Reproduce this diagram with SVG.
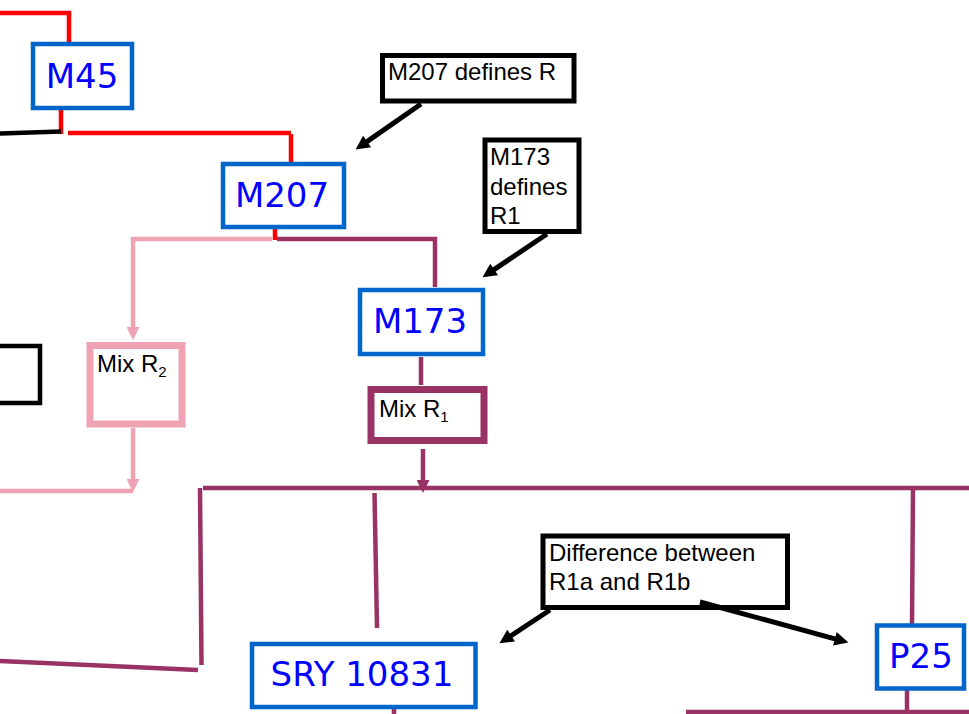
<svg xmlns="http://www.w3.org/2000/svg" width="969" height="714" viewBox="0 0 969 714">
<defs>
<style>
.node{fill:#fff;stroke:#0066CC;stroke-width:4.5}
.ntext{font-family:"DejaVu Sans",Verdana,sans-serif;font-size:34px;fill:#0000FF;text-anchor:middle}
.note{fill:#fff;stroke:#000;stroke-width:5}
.ntxt{font-family:"Liberation Sans",Arial,sans-serif;font-size:24px;fill:#000}
.red{stroke:#FF0000;stroke-width:4.5;fill:none}
.pink{stroke:#EEA2B2;stroke-width:4.5;fill:none}
.pur{stroke:#993366;stroke-width:4.5;fill:none}
.blk{stroke:#000;stroke-width:4.5;fill:none}
.arr{stroke:#000;stroke-width:5;fill:none;marker-end:url(#ab)}
</style>
<marker id="ab" viewBox="0 0 10 10" refX="2" refY="5" markerWidth="16" markerHeight="14" markerUnits="userSpaceOnUse" orient="auto"><path d="M0,0 L10,5 L0,10 z" fill="#000"/></marker>
<marker id="ap" viewBox="0 0 10 10" refX="0" refY="5" markerWidth="13" markerHeight="13" markerUnits="userSpaceOnUse" orient="auto"><path d="M0,0 L10,5 L0,10 z" fill="#EEA2B2"/></marker>
<marker id="au" viewBox="0 0 10 10" refX="0" refY="5" markerWidth="13" markerHeight="13" markerUnits="userSpaceOnUse" orient="auto"><path d="M0,0 L10,5 L0,10 z" fill="#993366"/></marker>
</defs>
<rect width="969" height="714" fill="#fff"/>
<g id="connectors">
<polyline class="red" points="0,13 69,13 69,43"/>
<line class="red" x1="61" y1="104" x2="61" y2="134"/>
<line class="blk" x1="0" y1="133.5" x2="61" y2="131.5"/>
<polyline class="red" points="68,133 291,133"/>
<line class="red" x1="291" y1="134" x2="291" y2="163"/>
<line class="red" x1="275" y1="226" x2="275" y2="240"/>
<polyline class="pink" points="272,239 133,239 133,327" marker-end="url(#ap)"/>
<polyline class="pur" points="277,239 435,239 435,287"/>
<polyline class="blk" points="0,346 40,346 40,403 0,403"/>
<line class="pink" x1="133" y1="428" x2="133" y2="479" marker-end="url(#ap)"/>
<line class="pink" x1="0" y1="491" x2="133" y2="491"/>
<line class="pur" x1="421" y1="357" x2="421" y2="385"/>
<line class="pur" x1="423" y1="449" x2="423" y2="480" marker-end="url(#au)"/>
<line class="pur" x1="203" y1="488" x2="969" y2="488"/>
<line class="pur" x1="200" y1="488" x2="201.5" y2="665"/>
<line class="pur" x1="0" y1="661" x2="198" y2="670"/>
<line class="pur" x1="374.5" y1="493" x2="377" y2="628"/>
<line class="pur" x1="913" y1="488" x2="912" y2="625"/>
<line class="pur" x1="394" y1="708" x2="394" y2="714"/>
<line class="pur" x1="907" y1="678" x2="907" y2="714"/>
<line class="pur" x1="686" y1="712" x2="969" y2="712"/>
</g>
<g id="M45"><rect class="node" x="33" y="44" width="99" height="64"/><text class="ntext" x="82" y="88">M45</text></g>
<g id="M207"><rect class="node" x="223" y="164" width="121" height="63"/><text class="ntext" x="282" y="207">M207</text></g>
<g id="M173"><rect class="node" x="360" y="290" width="123" height="64"/><text class="ntext" x="420" y="333">M173</text></g>
<g id="SRY10831"><rect class="node" x="252" y="644" width="223.5" height="63"/><text class="ntext" x="362" y="686">SRY 10831</text></g>
<g id="P25"><rect class="node" x="877" y="625.5" width="87" height="63"/><text class="ntext" x="921" y="668">P25</text></g>
<g id="MixR2"><rect x="90" y="345.5" width="92" height="78.5" fill="#fff" stroke="#EEA2B2" stroke-width="7"/><text class="ntxt" x="97" y="372" font-size="23">Mix R<tspan font-size="15" dy="5">2</tspan></text></g>
<g id="MixR1"><rect x="371" y="389.5" width="113" height="51" fill="#fff" stroke="#993366" stroke-width="7"/><text class="ntxt" x="379" y="417" font-size="23">Mix R<tspan font-size="15" dy="5">1</tspan></text></g>
<g id="noteM207"><rect class="note" x="382.5" y="55.5" width="191.5" height="45.5"/><text class="ntxt" x="388" y="80">M207 defines R</text></g>
<g id="noteM173"><rect class="note" x="485" y="140" width="94" height="91.5"/><text class="ntxt" x="490" y="165">M173<tspan x="490" dy="29.5">defines</tspan><tspan x="490" dy="29.5">R1</tspan></text></g>
<g id="noteDiff"><rect class="note" x="543" y="536" width="244.5" height="71.5"/><text class="ntxt" x="549" y="561">Difference between<tspan x="549" dy="29">R1a and R1b</tspan></text></g>
<g id="callout-arrows">
<line class="arr" x1="421" y1="104" x2="364.8" y2="143.1"/>
<line class="arr" x1="547" y1="234" x2="491.8" y2="271.1"/>
<line class="arr" x1="550" y1="610" x2="508.8" y2="637.1"/>
<line class="arr" x1="700" y1="602" x2="837.6" y2="639.6"/>
</g>
</svg>
